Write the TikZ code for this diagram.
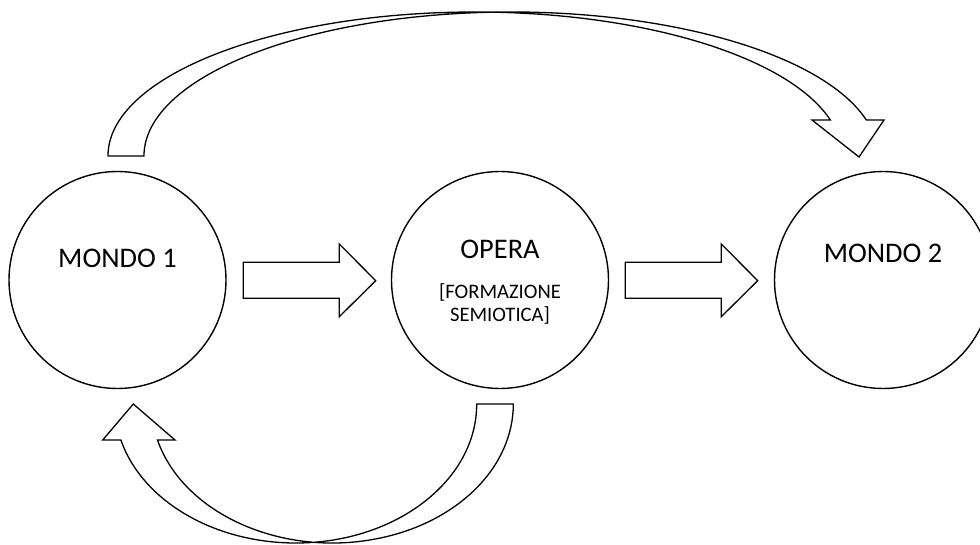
\documentclass[tikz,border=0pt]{standalone}
\usepackage{fontspec}
\setmainfont{Carlito}
\tikzset{
  ring/.style={draw, circle, line width=1.4pt, minimum size=217pt, inner sep=0pt, fill=white},
  bigtxt/.style={font=\fontsize{28.4}{34}\selectfont, anchor=base, inner sep=0pt},
  smalltxt/.style={font=\fontsize{20.6}{23}\selectfont, anchor=base, inner sep=0pt},
  blockarrow/.style={draw, line width=1.3pt, fill=white, line join=miter},
}
\begin{document}
\begin{tikzpicture}[x=1pt,y=1pt]
\useasboundingbox (0,0) rectangle (980,544);
\fill[white] (0,0) rectangle (980,544);

% circles
\node[ring] (m1) at (117.5,264) {};
\node[ring] (op) at (500,264) {};
\node[ring] (m2) at (883,264) {};

% texts
\node[bigtxt] (m1t) at (117.5,276) {MONDO 1};
\node[bigtxt] (opt) at (500,285.7) {OPERA};
\node[smalltxt] (opt2) at (500,245) {[FORMAZIONE};
\node[smalltxt] (opt3) at (500,222) {SEMIOTICA]};
\node[bigtxt] (m2t) at (883,281.3) {MONDO 2};

% straight block arrows
\draw[blockarrow] (243.3,281.7) -- (339.3,281.7) -- (339.3,300) -- (375.7,263.3)
  -- (339.3,227.3) -- (339.3,245.7) -- (243.3,245.7) -- cycle;
\begin{scope}[xshift=382pt]
\draw[blockarrow] (243.3,281.7) -- (339.3,281.7) -- (339.3,300) -- (375.7,263.3)
  -- (339.3,227.3) -- (339.3,245.7) -- (243.3,245.7) -- cycle;
\end{scope}

% upper curved arrow (MONDO 1 -> MONDO 2)
\draw[blockarrow] (108,388) arc[start angle=180, end angle=14.48, x radius=367, y radius=144]
  -- (812,424) -- (859,387) -- (884,424) -- (866.3,424)
  arc[start angle=14.48, end angle=180, x radius=367, y radius=144] -- cycle;

% lower curved arrow (OPERA -> MONDO 1)
\draw[blockarrow] (476.7,140) arc[start angle=360, end angle=195.01, x radius=181, y radius=139]
  -- (102.7,104) -- (133.3,140) -- (175,104) -- (157.5,104)
  arc[start angle=195.01, end angle=360, x radius=181, y radius=139] -- cycle;
\end{tikzpicture}
\end{document}
